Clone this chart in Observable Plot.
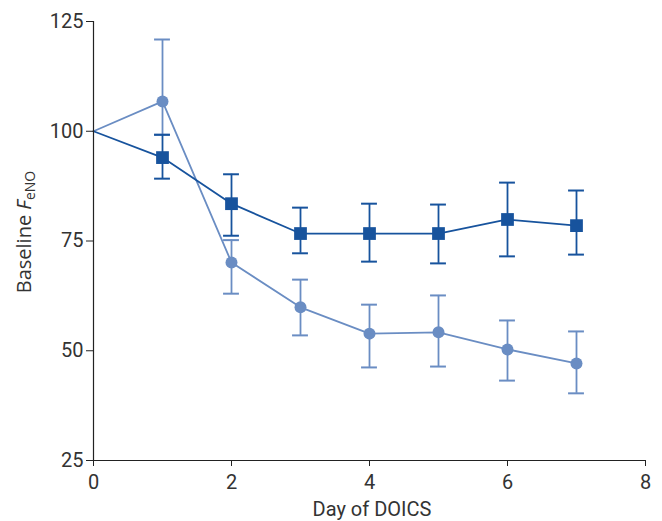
<!DOCTYPE html>
<html>
<head>
<meta charset="utf-8">
<script src="https://cdn.jsdelivr.net/npm/d3@7"></script>
<script src="https://cdn.jsdelivr.net/npm/@observablehq/plot@0.6"></script>
<style>
  html, body { margin: 0; padding: 0; background: #fff; }
  #chart { width: 662px; height: 521px; overflow: hidden; }
</style>
</head>
<body>
<div id="chart"></div>
<script>
// Day of DOICS
const days = [0, 1, 2, 3, 4, 5, 6, 7];
// Series A (squares, dark blue)
const squareMean = [100, 94.0, 83.5, 76.7, 76.7, 76.7, 79.9, 78.5];
const squareHi   = [null, 99.2, 90.2, 82.6, 83.5, 83.3, 88.3, 86.5];
const squareLo   = [null, 89.2, 76.2, 72.2, 70.3, 69.9, 71.5, 71.9];
// Series B (circles, light blue)
const circleMean = [100, 106.8, 70.1, 59.9, 53.9, 54.2, 50.3, 47.1];
const circleHi   = [null, 120.9, 75.2, 66.2, 60.5, 62.6, 56.9, 54.4];
const circleLo   = [null, 99.2, 63.0, 53.5, 46.2, 46.4, 43.2, 40.3];
// Axis ticks
const xTicks = [0, 2, 4, 6, 8];
const yTicks = [25, 50, 75, 100, 125];

const darkBlue = "#17539d";
const lightBlue = "#6a8dc3";

const build = (mean, hi, lo) => days.map((d, i) => ({day: d, mean: mean[i], hi: hi[i], lo: lo[i]}));
const sq = build(squareMean, squareHi, squareLo);
const ci = build(circleMean, circleHi, circleLo);
const sqErr = sq.filter(d => d.hi != null);
const ciErr = ci.filter(d => d.hi != null);
const sqPts = sq.filter(d => d.day > 0);
const ciPts = ci.filter(d => d.day > 0);
const capHalf = 0.115;

const chart = Plot.plot({
  width: 662,
  height: 521,
  marginLeft: 93,
  marginRight: 17,
  marginTop: 21,
  marginBottom: 61,
  style: {fontFamily: "Roboto, sans-serif", fontSize: "19px", color: "#333", background: "#fff"},
  x: {domain: [0, 8], ticks: xTicks, label: null},
  y: {domain: [25, 125], ticks: yTicks, label: null},
  marks: [
    // circle series
    Plot.line(ci, {x: "day", y: "mean", stroke: lightBlue, strokeWidth: 1.8}),
    Plot.ruleX(ciErr, {x: "day", y1: "lo", y2: "hi", stroke: lightBlue, strokeWidth: 1.8}),
    Plot.ruleY(ciErr, {y: "hi", x1: d => d.day - capHalf, x2: d => d.day + capHalf, stroke: lightBlue, strokeWidth: 2}),
    Plot.ruleY(ciErr, {y: "lo", x1: d => d.day - capHalf, x2: d => d.day + capHalf, stroke: lightBlue, strokeWidth: 2}),
    Plot.dot(ciPts, {x: "day", y: "mean", r: 6, fill: lightBlue, stroke: null}),
    // square series
    Plot.line(sq, {x: "day", y: "mean", stroke: darkBlue, strokeWidth: 1.8}),
    Plot.ruleX(sqErr, {x: "day", y1: "lo", y2: "hi", stroke: darkBlue, strokeWidth: 1.8}),
    Plot.ruleY(sqErr, {y: "hi", x1: d => d.day - capHalf, x2: d => d.day + capHalf, stroke: darkBlue, strokeWidth: 2}),
    Plot.ruleY(sqErr, {y: "lo", x1: d => d.day - capHalf, x2: d => d.day + capHalf, stroke: darkBlue, strokeWidth: 2}),
    Plot.dot(sqPts, {x: "day", y: "mean", symbol: "square", r: 7.2, fill: darkBlue, stroke: null}),
    // axes
    Plot.axisX({ticks: xTicks, tickSize: 6, tickPadding: 8, stroke: "#222", fill: "#333", label: null}),
    Plot.axisY({ticks: yTicks, tickSize: 7, tickPadding: 3, stroke: "#222", fill: "#333", label: null}),
    Plot.ruleX([0], {stroke: "#222", strokeWidth: 1.2}),
    Plot.ruleY([25], {stroke: "#222", strokeWidth: 1.2})
  ]
});

const svg = d3.select(chart);
// enlarge tick labels
svg.selectAll('g[aria-label$="tick label"]').style("font-size", "20px").attr("font-size", null);
svg.selectAll('g[aria-label$="tick label"] text').style("font-size", "20px");

// axis titles as real text
svg.append("text")
  .attr("x", 372).attr("y", 516)
  .attr("text-anchor", "middle")
  .attr("fill", "#333")
  .style("font-family", "Roboto, sans-serif").style("font-size", "20px")
  .text("Day of DOICS");
const yl = svg.append("text")
  .attr("transform", "translate(31,232) rotate(-90)")
  .attr("text-anchor", "middle")
  .attr("fill", "#333")
  .style("font-family", "'Open Sans', sans-serif").style("font-size", "20px");
yl.append("tspan").text("Baseline ");
yl.append("tspan").attr("font-style", "italic").text("F");
yl.append("tspan").attr("font-size", "14px").attr("dy", 4).text("eNO");

document.getElementById("chart").appendChild(chart);
</script>
</body>
</html>
